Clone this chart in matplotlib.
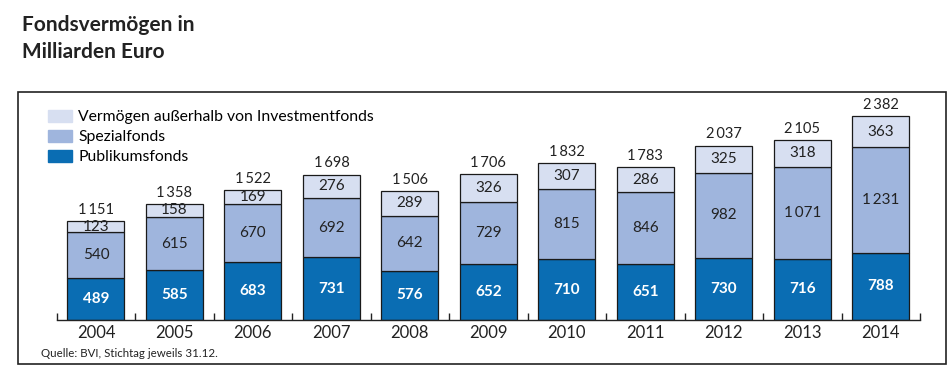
import matplotlib.pyplot as plt
from matplotlib.patches import Rectangle, Patch

plt.rcParams['font.family'] = ['Lato', 'DejaVu Sans']

years = ['2004', '2005', '2006', '2007', '2008', '2009', '2010', '2011', '2012', '2013', '2014']
publikum = [489, 585, 683, 731, 576, 652, 710, 651, 730, 716, 788]
spezial = [540, 615, 670, 692, 642, 729, 815, 846, 982, 1071, 1231]
ausserhalb = [123, 158, 169, 276, 289, 326, 307, 286, 325, 318, 363]
totals = [1151, 1358, 1522, 1698, 1506, 1706, 1832, 1783, 2037, 2105, 2382]
series_names = ['Vermögen außerhalb von Investmentfonds', 'Spezialfonds', 'Publikumsfonds']

c_pub = '#0a6db3'
c_spez = '#9fb5dd'
c_aus = '#d7dff1'


def fmt(v):
    return f'{v:,}'.replace(',', '\u2009')


fig = plt.figure(figsize=(9.53, 3.68), dpi=100)
ax = fig.add_axes([0.0595, 0.1304, 0.9059, 0.5978])

x = list(range(len(years)))
w = 0.725
bottom2 = [p + s for p, s in zip(publikum, spezial)]
ax.bar(x, publikum, w, color=c_pub, edgecolor='#1a1a1a', linewidth=0.9)
ax.bar(x, spezial, w, bottom=publikum, color=c_spez, edgecolor='#1a1a1a', linewidth=0.9)
ax.bar(x, ausserhalb, w, bottom=bottom2, color=c_aus, edgecolor='#1a1a1a', linewidth=0.9)

for i in x:
    ax.text(i, publikum[i] / 2, fmt(publikum[i]), ha='center', va='center',
            color='white', fontsize=11, fontweight='bold')
    ax.text(i, publikum[i] + spezial[i] / 2, fmt(spezial[i]), ha='center', va='center',
            color='#222222', fontsize=11)
    ax.text(i, bottom2[i] + ausserhalb[i] / 2, fmt(ausserhalb[i]), ha='center', va='center',
            color='#222222', fontsize=11)
    ax.annotate(fmt(totals[i]), (i, bottom2[i] + ausserhalb[i]), xytext=(0, 3),
                textcoords='offset points', ha='center', va='bottom',
                color='#222222', fontsize=10.5)

ax.set_xlim(-0.5, len(years) - 0.5)
ax.set_ylim(0, 2569)
for s in ['top', 'right', 'left']:
    ax.spines[s].set_visible(False)
ax.spines['bottom'].set_color('#222222')
ax.spines['bottom'].set_linewidth(1.0)
ax.set_yticks([])
ax.set_xticks([i - 0.5 for i in range(len(years) + 1)], minor=False)
ax.set_xticklabels([])
ax.tick_params(axis='x', direction='in', length=5, width=1.0, color='#222222')
for i, y in enumerate(years):
    ax.text(i, -0.06, y, transform=ax.get_xaxis_transform(), ha='center', va='center',
            fontsize=12, color='#222222')

handles = [Patch(color=c_aus), Patch(color=c_spez), Patch(color=c_pub)]
fig.legend(handles, series_names, loc='upper left', bbox_to_anchor=(0.050, 0.701),
           frameon=False, fontsize=11.3, handlelength=1.55, handleheight=0.78,
           handletextpad=0.4, labelspacing=0.36, borderaxespad=0, borderpad=0)

fig.text(0.023, 0.96, 'Fondsvermögen in\nMilliarden Euro', ha='left', va='top',
         fontsize=15, fontweight='bold', color='#222222', linespacing=1.45)
fig.text(0.043, 0.04, 'Quelle: BVI, Stichtag jeweils 31.12.', ha='left', va='center',
         fontsize=8.3, color='#222222')

fig.patches.append(Rectangle((0.019, 0.011), 0.974, 0.738, transform=fig.transFigure,
                             fill=False, edgecolor='#222222', linewidth=1.2))

plt.savefig('out.png', dpi=100)
